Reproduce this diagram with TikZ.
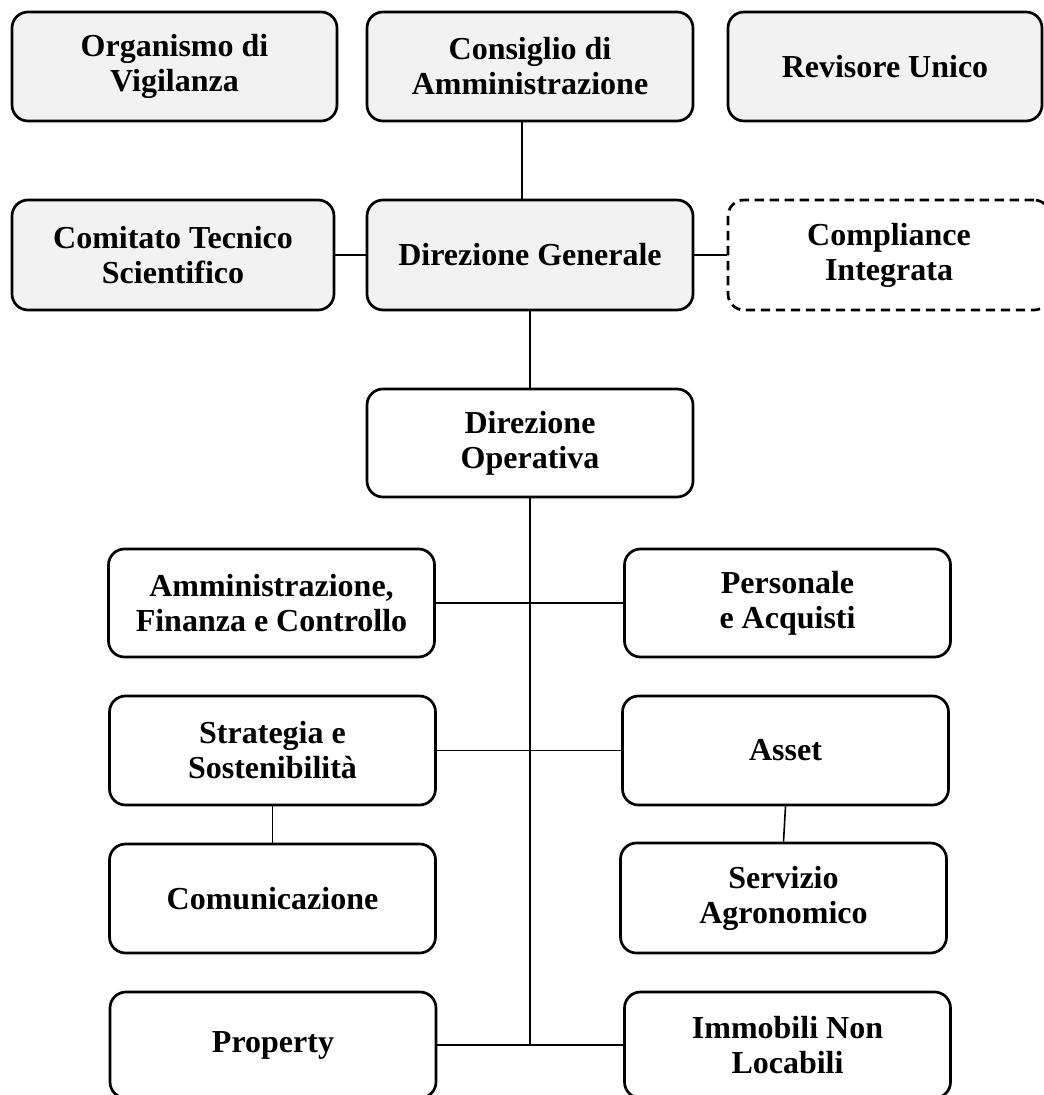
\documentclass[tikz,border=0pt]{standalone}
\usepackage{fontspec}
\setmainfont{Liberation Serif}
\usepackage{tikz}
\usetikzlibrary{calc,positioning}
\definecolor{boxgray}{HTML}{F2F2F2}
\tikzset{
  unit/.style={draw,thick,line width=1.35pt,rounded corners=8pt,align=center,
    minimum width=163pt,minimum height=54.5pt,inner sep=2pt,
    font=\fontsize{16}{17.5}\selectfont\bfseries},
  board/.style={unit,fill=boxgray},
  staff/.style={unit,dashed,dash pattern=on 4.7pt off 2.8pt},
  link/.style={line width=0.8pt}
}
\begin{document}
\begin{tikzpicture}[x=0.5pt,y=-0.5pt]
  \useasboundingbox (0,0) rectangle (1043,1095);

  % Governance
  \node[board,minimum width=162.5pt] (ov)  at (174.5,66.5) {Organismo di\\Vigilanza};
  \node[board] (cda) at (530,66.5) {Consiglio di\\Amministrazione};
  \node[board,minimum width=157pt] (rev) at (885,66.5) {Revisore Unico};

  % Direzione Generale
  \node[board,minimum width=161pt,minimum height=55pt] (cts) at (173,255) {Comitato Tecnico\\Scientifico};
  \node[board,minimum height=55pt] (dg) at (530,255) {Direzione Generale};
  \node[staff,minimum width=161pt,minimum height=55pt] (comp) at (889,255) {Compliance\\Integrata};

  % Direzione Operativa
  \node[unit,minimum height=54pt] (dop) at (530,443) {Direzione\\Operativa};

  % Funzioni
  \node[unit,minimum height=54pt] (afc)   at (271.5,603) {Amministrazione,\\Finanza e Controllo};
  \node[unit,minimum height=54pt] (pers)  at (787.5,603) {Personale\\e Acquisti};
  \node[unit] (strat) at (272.5,750.5) {Strategia e\\Sostenibilità};
  \node[unit] (asset) at (785.5,750.5) {Asset};
  \node[unit] (comu)  at (272.5,898.5) {Comunicazione};
  \node[unit,minimum height=55pt] (agro) at (783.5,898) {Servizio\\Agronomico};
  \node[unit,minimum height=53pt] (prop) at (273,1045) {Property};
  \node[unit,minimum height=53pt] (inl)  at (787.5,1045) {Immobili Non\\Locabili};

  % Connectors
  \draw[link] ([xshift=-4pt]cda.south) -- ([xshift=-4pt]cda.south |- dg.north);
  \draw[link] (cts.east) -- (dg.west);
  \draw[link] (dg.east) -- (comp.west);
  \draw[link] (dg.south) -- (dop.north);
  \coordinate (trunk) at (dop.south |- prop.east);
  \draw[link] (dop.south) -- (trunk);
  \draw[link] (afc.east) -- (pers.west);
  \draw[link] (strat.east) -- (asset.west);
  \draw[link] (prop.east) -- (inl.west);
  \draw[link] (strat.south) -- (comu.north);
  \draw[link] (asset.south) -- (agro.north);
\end{tikzpicture}
\end{document}
